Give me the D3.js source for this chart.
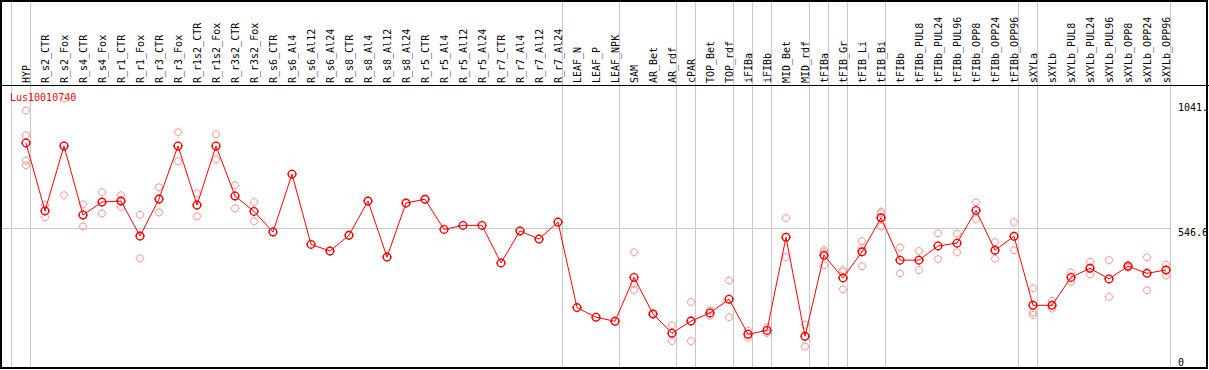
<!DOCTYPE html>
<html>
<head>
<meta charset="utf-8">
<script src="https://cdn.jsdelivr.net/npm/d3@7"></script>
<style>
  body { margin: 0; background: #fff; }
  svg { display: block; }
  text { font-family: "DejaVu Sans Mono", monospace; font-size: 10px; }
</style>
</head>
<body>
<div id="chart"></div>
<script>
var geneName = "Lus10010740";

var categories = ["HYP", "R_s2_CTR", "R_s2_Fox", "R_s4_CTR", "R_s4_Fox", "R_r1_CTR", "R_r1_Fox",
  "R_r3_CTR", "R_r3_Fox", "R_r1s2_CTR", "R_r1s2_Fox", "R_r3s2_CTR", "R_r3s2_Fox", "R_s6_CTR",
  "R_s6_Al4", "R_s6_Al12", "R_s6_Al24", "R_s8_CTR", "R_s8_Al4", "R_s8_Al12", "R_s8_Al24",
  "R_r5_CTR", "R_r5_Al4", "R_r5_Al12", "R_r5_Al24", "R_r7_CTR", "R_r7_Al4", "R_r7_Al12", "R_r7_Al24",
  "LEAF_N", "LEAF_P", "LEAF_NPK", "SAM", "AR_Bet", "AR_rdf", "cPAR", "TOP_Bet", "TOP_rdf",
  "iFIBa", "iFIBb", "MID_Bet", "MID_rdf", "tFIBa", "tFIB_Gr", "tFIB_Li", "tFIB_Bi", "tFIBb",
  "tFIBb_PUL8", "tFIBb_PUL24", "tFIBb_PUL96", "tFIBb_OPP8", "tFIBb_OPP24", "tFIBb_OPP96",
  "sXYLa", "sXYLb", "sXYLb_PUL8", "sXYLb_PUL24", "sXYLb_PUL96", "sXYLb_OPP8", "sXYLb_OPP24", "sXYLb_OPP96"];

var meanValues = [882, 614, 870, 598, 649, 653, 515,
  661, 870, 637, 870, 673, 612, 531,
  759, 482, 456, 518, 653, 432, 645,
  660, 541, 557, 557, 409, 535, 503, 570,
  233, 195, 179, 352, 208, 132, 180, 212, 266,
  128, 143, 510, 120, 439, 350, 453, 587, 420,
  420, 476, 487, 616, 459, 514,
  242, 242, 352, 388, 346, 396, 368, 381];

var replicateValues = [[1010, 912, 812, 794], [637, 589], [1058, 676], [640, 553], [688, 604], [676, 630], [599, 427],
  [707, 608], [924, 810], [683, 593], [916, 817], [715, 624], [649, 573], [],
  [], [], [], [], [], [], [],
  [], [], [], [], [], [], [], [],
  [], [], [], [451, 326, 303], [210, 205], [163, 101], [255, 101], [222, 201], [340, 195],
  [141, 114], [154, 133], [586, 432], [165, 80], [460, 400, 452], [373, 305, 381], [495, 396, 468], [611, 604, 552], [470, 368],
  [456, 381], [526, 424], [524, 451], [648, 582], [491, 426], [570, 459],
  [309, 214, 204], [260, 229], [372, 334], [414, 364], [420, 275], [401, 391], [431, 301], [402, 359]];

// index of the last column in each group (-1 = left edge)
var groupEnds = [-1, 0, 28, 31, 34, 35, 37, 38, 39, 41, 42, 43, 45, 52, 53, 60];

var tickValues = [1041.3, 546.6, 0];
var tickLabels = ["1041.", "546.6", "0"];
var gridValues = [546.6];

var width = 1209, height = 370;
var headerBottom = 85, plotBottom = 368;

var svg = d3.select("#chart").append("svg")
  .attr("width", width)
  .attr("height", height);

var x = d3.scalePoint().domain(categories).range([26, 1166]);
var step = x.step();
var y = d3.scaleLinear().domain([0, 1041.3]).range([366.7, 102.5]);

// vertical group separators
svg.selectAll(".sep")
  .data(groupEnds)
  .enter().append("line")
  .attr("class", "sep")
  .attr("x1", function (d) { return Math.round(26 + step * d + 4.3) + 0.5; })
  .attr("x2", function (d) { return Math.round(26 + step * d + 4.3) + 0.5; })
  .attr("y1", 0)
  .attr("y2", plotBottom)
  .attr("stroke", "#c8c8c8")
  .attr("stroke-width", 1)
  .attr("shape-rendering", "crispEdges");

// horizontal grid
svg.selectAll(".grid")
  .data(gridValues)
  .enter().append("line")
  .attr("class", "grid")
  .attr("x1", 1)
  .attr("x2", Math.round(26 + step * 60 + 4.3) + 0.5)
  .attr("y1", function (d) { return Math.round(y(d)) + 0.5; })
  .attr("y2", function (d) { return Math.round(y(d)) + 0.5; })
  .attr("stroke", "#c8c8c8")
  .attr("shape-rendering", "crispEdges");

// header / frame
svg.append("line")
  .attr("x1", 0).attr("x2", width)
  .attr("y1", headerBottom + 0.5).attr("y2", headerBottom + 0.5)
  .attr("stroke", "#000")
  .attr("shape-rendering", "crispEdges");

svg.append("rect")
  .attr("x", 1).attr("y", 1)
  .attr("width", 1206).attr("height", 367)
  .attr("fill", "none")
  .attr("stroke", "#000")
  .attr("stroke-width", 2)
  .attr("shape-rendering", "crispEdges");

// column labels
svg.selectAll(".collabel")
  .data(categories)
  .enter().append("text")
  .attr("class", "collabel")
  .attr("transform", function (d) { return "translate(" + (x(d) + 3.5) + "," + 83 + ") rotate(-90)"; })
  .attr("fill", "#000")
  .text(function (d) { return d; });

// right axis labels
svg.selectAll(".ticklabel")
  .data(tickValues)
  .enter().append("text")
  .attr("class", "ticklabel")
  .attr("x", 1178)
  .attr("y", function (d) { return Math.min(y(d) + 8.3, 365.5); })
  .attr("fill", "#000")
  .text(function (d, i) { return tickLabels[i]; });

// gene label
svg.append("text")
  .attr("x", 10)
  .attr("y", 100.5)
  .attr("fill", "#ff0000")
  .text(geneName);

function marker(g, cx, cy, r, color, sw) {
  g.append("circle")
    .attr("cx", cx).attr("cy", cy).attr("r", r)
    .attr("fill", "none")
    .attr("stroke", color)
    .attr("stroke-width", sw);
  var ticks = [[0, -1], [1, 0], [0, 1], [-1, 0]];
  ticks.forEach(function (t) {
    g.append("line")
      .attr("x1", cx + t[0] * r).attr("y1", cy + t[1] * r)
      .attr("x2", cx + t[0] * (r + 1)).attr("y2", cy + t[1] * (r + 1))
      .attr("stroke", color)
      .attr("stroke-width", 1);
  });
}

// replicates
var repG = svg.append("g");
categories.forEach(function (c, i) {
  replicateValues[i].forEach(function (v) {
    marker(repG, x(c), y(v), 3.5, "#f0a0a0", 1);
  });
});

// mean line
var line = d3.line()
  .x(function (d, i) { return x(categories[i]); })
  .y(function (d) { return y(d); });

svg.append("path")
  .datum(meanValues)
  .attr("d", line)
  .attr("fill", "none")
  .attr("stroke", "#ff0000")
  .attr("stroke-width", 1);

var meanG = svg.append("g");
meanValues.forEach(function (v, i) {
  marker(meanG, x(categories[i]), y(v), 3.8, "#ff0000", 1.4);
});
</script>
</body>
</html>
